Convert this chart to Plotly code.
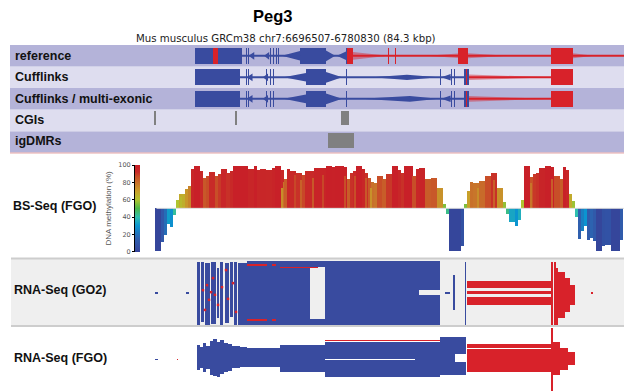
import plotly.graph_objects as go

W, H = 624, 391
BLUE = '#394b9f'
RED = '#d8222a'
PINK = 'rgba(216,34,42,0.45)'
GREY = '#808080'
DARK_BAND = '#b4b3d9'
LIGHT_BAND = '#deddef'
GO2_BG = '#efefef'

# ---------------- data (positions in kb from chr7:6,696,507) ----------------
X_RANGE = [0, 84.3]
TITLE = 'Peg3'
SUBTITLE = 'Mus musculus GRCm38 chr7:6696507-6780830 (84.3 kbp)'
TRACK_LABELS = ['reference', 'Cufflinks', 'Cufflinks / multi-exonic', 'CGIs', 'igDMRs']
PANEL_LABELS = ['BS-Seq (FGO)', 'RNA-Seq (GO2)', 'RNA-Seq (FGO)']

# reference transcript model (row 4)
REF_BLUE_EXONS = [(9.58, 17.77), (27.87, 32.40), (35.88, 36.10), (18.38, 18.55), (18.73, 18.90),
                  (22.64, 22.81), (23.16, 23.33), (23.69, 23.86), (24.03, 24.20)]
REF_RED_EXONS = [(12.71, 13.50), (36.05, 37.10), (43.19, 43.40), (44.41, 44.62), (55.39, 57.13), (71.58, 75.42)]
REF_BLUE_INTRONS = [(17.77, 27.87), (32.40, 35.88)]
REF_RED_INTRONS = [(37.10, 55.39), (57.13, 71.58), (75.42, 84.30)]
REF_BLUE_FANS = [(18.9, 19.9, 0.18), (21.6, 22.5, 0.18), (24.7, 27.87, 0.22), (34.0, 32.40, 0.25), (34.3, 35.88, 0.2)]
REF_RED_FANS = [(43.19, 37.10, 0.18), (50.0, 55.39, 0.1), (64.0, 57.13, 0.12), (79.0, 75.42, 0.12)]

# Cufflinks (row 3)
CUFF_BLUE_EXONS = [(9.58, 17.42), (28.91, 32.40), (35.88, 36.10), (18.38, 18.55), (18.73, 18.90),
                   (21.95, 22.12), (22.64, 22.81), (23.16, 23.33), (52.25, 52.42), (54.17, 54.34),
                   (54.69, 54.86), (56.43, 57.30)]
CUFF_RED_EXONS = [(56.72, 56.90), (71.58, 75.42)]
CUFF_BLUE_INTRONS = [(17.42, 28.91), (32.40, 56.43)]
CUFF_RED_INTRONS = [(57.30, 71.58)]
CUFF_BLUE_FANS = [(18.6, 19.6, 0.18), (21.4, 22.3, 0.18), (25.0, 28.91, 0.2), (35.2, 32.40, 0.25),
                  (40.5, 46.5, 0.12), (52.0, 46.5, 0.12), (52.5, 54.1, 0.15)]
CUFF_RED_FANS = [(71.58, 57.30, 0.13)]

# Cufflinks multi-exonic (row 2)
MULTI_BLUE_EXONS = [(9.58, 17.42), (28.91, 32.40), (35.88, 36.10), (18.38, 18.55), (18.73, 18.90),
                    (21.95, 22.12), (22.64, 22.81), (23.16, 23.33), (52.25, 52.42), (54.17, 54.34),
                    (54.69, 54.86), (56.43, 57.30)]
MULTI_RED_EXONS = [(56.72, 56.90), (71.58, 75.42)]
MULTI_BLUE_INTRONS = [(17.42, 28.91), (32.40, 56.43)]
MULTI_RED_INTRONS = [(57.30, 71.58)]
MULTI_BLUE_FANS = [(18.6, 19.6, 0.18), (21.4, 22.3, 0.18), (25.0, 28.91, 0.2), (35.2, 32.40, 0.25),
                   (38.5, 47.0, 0.13), (52.0, 47.0, 0.13), (52.5, 54.1, 0.15)]
MULTI_RED_FANS = [(71.58, 57.30, 0.13)]

CGI_REGIONS = [(2.44, 2.87), (16.55, 16.81), (35.01, 36.40)]
IGDMR_REGIONS = [(32.74, 37.27)]

# BS-Seq methylation (%), consecutive bins
BS_BIN_START_KB = 2.87
BS_BIN_KB = 0.5225
BS_METH = [1, 1, 11, 19, 32, 29, 42, 60, 67, 66,
           72, 76, 95, 99, 99, 93, 85, 87, 92, 92,
           87, 90, 95, 95, 91, 93, 99, 99, 99, 99,
           99, 95, 95, 99, 94, 95, 95, 94, 94, 96,
           99, 99, 94, 84, 95, 93, 93, 91, 91, 88,
           93, 93, 93, 96, 96, 96, 96, 99, 99, 98,
           99, 99, 99, 98, 84, 91, 93, 99, 99, 95,
           91, 85, 80, 79, 87, 87, 84, 90, 90, 99,
           99, 94, 91, 99, 99, 99, 87, 95, 96, 96,
           84, 84, 85, 85, 73, 73, 55, 44, 1, 1,
           1, 1, 7, 55, 70, 80, 79, 79, 81, 81,
           87, 87, 91, 91, 73, 73, 57, 44, 34, 34,
           30, 36, 60, 99, 99, 86, 90, 91, 96, 96,
           99, 99, 98, 87, 87, 84, 98, 94, 67, 58,
           40, 15, 24, 30, 13, 16, 12, 1, 1, 7,
           8, 8, 1, 1, 1, 13]
BS_OVERLAY_KB = [7.14, 15.15, 24.73, 24.99, 26.99, 28.04, 30.13, 31.87, 35.71, 37.45,
                 39.36, 40.24, 42.32, 47.55, 58.87, 61.66, 68.10, 71.76]
BS_OVERLAY_METH = [63, 91, 74, 80, 88, 83, 85, 88, 87, 87, 85, 73, 84, 87, 74, 83, 79, 84]

# RNA-Seq pileups: (start kb, end kb, upper, lower) in relative read-stack units
GO2_MINUS = [(9.93, 10.45, 0.91, -0.97), (10.62, 11.15, 0.91, -0.88), (11.32, 12.19, 0.88, -0.97),
             (12.45, 13.24, 0.91, -0.94), (13.41, 13.76, 0.73, -0.76), (13.93, 14.46, 0.91, -0.97),
             (14.72, 15.50, 0.88, -0.91), (15.68, 16.20, 0.91, -0.73), (16.37, 16.89, 0.91, -0.97),
             (17.07, 18.64, 0.88, -0.97), (18.64, 29.61, 0.94, -0.97), (29.61, 32.22, 0.94, 0.76),
             (29.61, 32.22, -0.79, -0.97), (32.22, 48.59, 0.94, -0.97), (48.59, 52.25, 0.94, 0.07),
             (48.59, 52.25, -0.07, -0.97), (2.61, 3.14, 0.03, -0.03), (8.01, 8.53, 0.03, -0.03),
             (53.12, 54.00, 0.03, -0.03), (54.52, 54.86, 0.52, -0.52), (56.52, 56.78, 0.91, -0.97)]
GO2_PLUS = [(18.64, 22.12, 0.85, 0.78), (22.99, 23.69, 0.85, 0.78), (18.64, 22.12, -0.79, -0.85),
            (22.99, 23.69, -0.79, -0.85), (24.38, 31.00, 0.75, 0.72), (56.95, 71.58, 0.34, 0.13),
            (56.95, 71.58, 0.04, -0.04), (56.95, 71.58, -0.13, -0.37), (71.58, 71.93, 0.91, -0.97),
            (72.11, 72.37, 0.91, -0.97), (72.54, 72.80, 0.73, -0.97), (72.80, 74.02, 0.61, -0.76),
            (74.02, 74.89, 0.43, -0.58), (74.89, 75.76, 0.22, -0.37), (78.55, 78.90, 0.03, -0.03)]
GO2_PLUS_READS_KB = [10.97, 11.67, 12.02, 12.71, 13.06, 13.59, 14.28, 14.98, 15.33, 16.20, 16.72, 11.32, 12.37]
GO2_PLUS_READS_Y = [0.07, 0.22, -0.22, 0.43, -0.07, -0.37, 0.16, 0.67, -0.19, 0.28, -0.58, -0.52, 0.01]

FGO_MINUS = [(2.61, 3.14, 0.03, -0.03), (9.93, 10.45, 0.46, -0.33), (10.45, 10.97, 0.40, -0.27),
             (10.97, 11.50, 0.52, -0.40), (11.50, 12.19, 0.43, -0.30), (12.19, 12.71, 0.59, -0.49),
             (12.71, 13.41, 0.65, -0.52), (13.41, 13.93, 0.56, -0.56), (13.93, 14.63, 0.62, -0.46),
             (14.63, 15.33, 0.52, -0.40), (15.33, 16.02, 0.49, -0.37), (16.02, 16.72, 0.43, -0.27),
             (16.72, 17.42, 0.43, -0.27), (17.42, 18.64, 0.40, -0.24), (18.64, 24.38, 0.37, -0.24),
             (24.38, 32.22, 0.46, -0.40), (32.22, 52.25, 0.56, -0.56), (52.25, 54.86, 0.71, -0.49),
             (54.86, 56.78, 0.71, 0.17), (54.86, 56.78, -0.08, -0.49)]
FGO_PLUS = [(6.44, 6.62, 0.03, -0.03), (32.22, 52.25, 0.63, 0.60), (56.95, 71.58, 0.49, 0.38),
            (56.95, 71.58, 0.33, -0.40), (71.58, 71.93, 1.0, -1.0), (71.93, 73.15, 0.56, -0.49),
            (73.15, 74.54, 0.37, -0.33), (74.54, 75.76, 0.24, -0.17)]
FGO_GAPS = [(32.22, 47.90, 0.03, -0.03)]

METH_SCALE = [[0.0, '#35449a'], [0.15, '#2f5fae'], [0.3, '#0b94d0'], [0.4, '#2fbfb0'],
              [0.5, '#4cb84a'], [0.6, '#b0c430'], [0.7, '#c8a02a'], [0.8, '#c8702a'],
              [0.87, '#c84e28'], [0.92, '#c82a28'], [1.0, '#c81e28']]

# ---------------- helpers ----------------
def py(px):
    return 1 - px / H

def rect_bars(items, color, yaxis, name):
    xs = [(a + b) / 2 for a, b, _, _ in items]
    ws = [b - a for a, b, _, _ in items]
    base = [min(u, l) for _, _, u, l in items]
    hs = [abs(u - l) for _, _, u, l in items]
    return go.Bar(x=xs, y=hs, base=base, width=ws, marker=dict(color=color, line=dict(width=0)),
                  yaxis=yaxis, name=name, showlegend=False, hoverinfo='skip')

def exon_bars(regions, row, color, half=0.37):
    items = [(a, b, row + 0.5 + half, row + 0.5 - half) for a, b in regions]
    return rect_bars(items, color, 'y', 'exons')

def intron_lines(regions, row, color, width=2):
    xs, ys = [], []
    for a, b in regions:
        xs += [a, b, None]
        ys += [row + 0.5, row + 0.5, None]
    return go.Scatter(x=xs, y=ys, mode='lines', line=dict(color=color, width=width),
                      yaxis='y', showlegend=False, hoverinfo='skip')

def fans(items, row, color):
    xs, ys = [], []
    c = row + 0.5
    for tip, base, h in items:
        xs += [tip, base, base, tip, None]
        ys += [c, c + h, c - h, c, None]
    return go.Scatter(x=xs, y=ys, mode='lines', fill='toself', fillcolor=color,
                      line=dict(width=0, color=color), yaxis='y', showlegend=False, hoverinfo='skip')

fig = go.Figure()

# gene model tracks
for row, (be, re_, bi, ri, bf, rf) in zip([4, 3, 2], [
        (REF_BLUE_EXONS, REF_RED_EXONS, REF_BLUE_INTRONS, REF_RED_INTRONS, REF_BLUE_FANS, REF_RED_FANS),
        (CUFF_BLUE_EXONS, CUFF_RED_EXONS, CUFF_BLUE_INTRONS, CUFF_RED_INTRONS, CUFF_BLUE_FANS, CUFF_RED_FANS),
        (MULTI_BLUE_EXONS, MULTI_RED_EXONS, MULTI_BLUE_INTRONS, MULTI_RED_INTRONS, MULTI_BLUE_FANS, MULTI_RED_FANS)]):
    fig.add_trace(intron_lines(bi, row, BLUE))
    fig.add_trace(intron_lines(ri, row, RED))
    fig.add_trace(fans(bf, row, BLUE))
    fig.add_trace(fans(rf, row, PINK))
    fig.add_trace(exon_bars(be, row, BLUE))
    fig.add_trace(exon_bars(re_, row, RED))

fig.add_trace(rect_bars([(a, b, 1.95, 1.28) for a, b in CGI_REGIONS], GREY, 'y', 'CGIs'))
fig.add_trace(rect_bars([(a, b, 0.93, 0.23) for a, b in IGDMR_REGIONS], GREY, 'y', 'igDMRs'))

# BS-Seq
bs_x = [BS_BIN_START_KB + i * BS_BIN_KB for i in range(len(BS_METH))]
fig.add_trace(go.Scatter(x=[bs_x[0], X_RANGE[1]], y=[50, 50], mode='lines',
                         line=dict(color='#dcdcdc', width=1), yaxis='y2', showlegend=False, hoverinfo='skip'))
fig.add_trace(go.Bar(
    x=bs_x, y=[v - 50 for v in BS_METH], base=50, width=BS_BIN_KB, yaxis='y2',
    marker=dict(color=BS_METH, colorscale=METH_SCALE, cmin=0, cmax=100, line=dict(width=0),
                colorbar=dict(x=135 / W, xanchor='left', xpad=0, ypad=0, thickness=5,
                              y=(py(251.7) + py(165)) / 2, yanchor='middle', len=py(165) - py(251.7),
                              outlinewidth=0, showticklabels=False, ticks='')),
    showlegend=False, hoverinfo='skip'))
fig.add_trace(go.Bar(
    x=BS_OVERLAY_KB, y=[v - 50 for v in BS_OVERLAY_METH], base=50, width=0.33, yaxis='y2',
    marker=dict(color=BS_OVERLAY_METH, colorscale=METH_SCALE, cmin=0, cmax=100, line=dict(width=0)),
    showlegend=False, hoverinfo='skip'))

# RNA-Seq GO2
fig.add_trace(rect_bars(GO2_MINUS, BLUE, 'y3', 'GO2 -'))
fig.add_trace(rect_bars(GO2_PLUS, RED, 'y3', 'GO2 +'))
fig.add_trace(go.Scatter(x=GO2_PLUS_READS_KB, y=GO2_PLUS_READS_Y, mode='markers', yaxis='y3',
                         marker=dict(symbol='square', size=2.5, color=RED, line=dict(width=0)),
                         showlegend=False, hoverinfo='skip'))
# RNA-Seq FGO
fig.add_trace(rect_bars(FGO_MINUS, BLUE, 'y4', 'FGO -'))
fig.add_trace(rect_bars(FGO_PLUS, RED, 'y4', 'FGO +'))
fig.add_trace(rect_bars(FGO_GAPS, 'white', 'y4', 'gap'))

shapes = []
band_colors = [DARK_BAND, LIGHT_BAND, DARK_BAND, LIGHT_BAND, DARK_BAND]
for i, c in enumerate(band_colors):
    shapes.append(dict(type='rect', xref='paper', yref='y', x0=10 / W, x1=1, y0=i, y1=i + 1,
                       fillcolor=c, line=dict(width=0), layer='below'))
shapes.append(dict(type='line', xref='paper', yref='paper', x0=10 / W, x1=1, y0=py(153), y1=py(153),
                   line=dict(color='#e6a5a5', width=1)))
shapes.append(dict(type='rect', xref='paper', yref='y3 domain', x0=11 / W, x1=1, y0=0, y1=1,
                   fillcolor=GO2_BG, line=dict(width=0), layer='below'))
for yy in [258.5, 326]:
    shapes.append(dict(type='line', xref='paper', yref='paper', x0=11 / W, x1=1, y0=py(yy), y1=py(yy),
                       line=dict(color='#cdcdcd', width=2)))

LF = 'Liberation Sans, Arial, sans-serif'
ann = [dict(text='<b>' + TITLE + '</b>', x=272.5 / W, y=py(16), font=dict(family=LF, size=16.5, color='black')),
       dict(text=SUBTITLE, x=286 / W, y=py(38.5), font=dict(family='DejaVu Sans, sans-serif', size=10.2, color='#222'))]
for lab, yy in zip(TRACK_LABELS, [55.5, 77, 99, 120, 141]):
    ann.append(dict(text='<b>' + lab + '</b>', x=13 / W, y=py(yy), xanchor='left',
                    font=dict(family=LF, size=12.5, color='#111')))
for lab, xx, yy in zip(PANEL_LABELS, [10.5, 11.5, 11.5], [206, 290, 358]):
    ann.append(dict(text='<b>' + lab + '</b>', x=xx / W, y=py(yy), xanchor='left',
                    font=dict(family=LF, size=12.5, color='#111')))
for a in ann:
    a.update(xref='paper', yref='paper', showarrow=False, yanchor=a.get('yanchor', 'middle'))
    a.setdefault('xanchor', 'center')

fig.update_layout(
    width=W, height=H, margin=dict(l=0, r=0, t=0, b=0),
    paper_bgcolor='white', plot_bgcolor='rgba(0,0,0,0)', barmode='overlay', bargap=0,
    xaxis=dict(domain=[140 / W, 1], range=X_RANGE, visible=False, fixedrange=True),
    yaxis=dict(domain=[py(152.7), py(45)], range=[0, 5], visible=False),
    yaxis2=dict(domain=[py(251.7), py(165)], range=[0, 100], anchor='free', position=134 / W,
                side='left', showline=True, linecolor='black', linewidth=1, ticks='outside',
                ticklen=2, tickcolor='black', tickvals=[0, 20, 40, 60, 80, 100],
                tickfont=dict(family='DejaVu Sans, sans-serif', size=6.5, color='#555'),
                showgrid=False, zeroline=False, automargin=False,
                title=dict(text='DNA methylation (%)', standoff=4,
                           font=dict(family=LF, size=8, color='#555'))),
    yaxis3=dict(domain=[py(326), py(259)], range=[-1, 1], visible=False),
    yaxis4=dict(domain=[0, py(328)], range=[-1, 1], visible=False),
    shapes=shapes, annotations=ann,
)
fig.write_html('out.html', config={'displayModeBar': False, 'staticPlot': True},
               post_script="document.body.style.margin='0';document.body.style.overflow='hidden';")
